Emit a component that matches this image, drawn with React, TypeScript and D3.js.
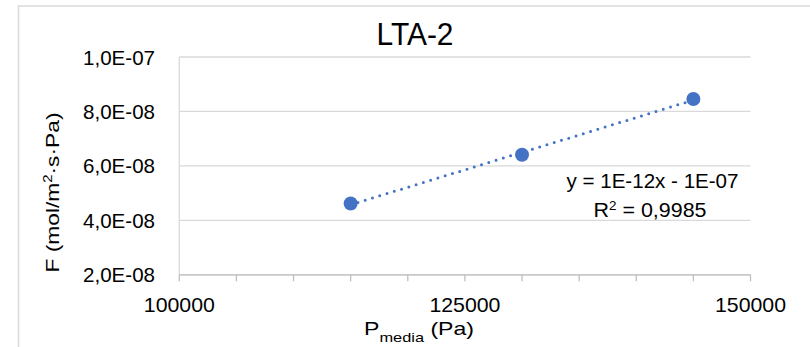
import React from "react";
import * as d3 from "d3";

// Measured points: mean pressure (Pa) vs permeance F (mol/m²·s·Pa)
const pressureValues = [115000, 130000, 145000];
const permeanceValues = [4.62e-8, 6.41e-8, 8.46e-8];

const xTickValues = [100000, 125000, 150000];
const yTickValues = [2e-8, 4e-8, 6e-8, 8e-8, 1e-7];
const xMinorStep = 5000;

const chartTitle = "LTA-2";

const W = 810;
const H = 347;
const FONT = "'Liberation Sans', Arial, sans-serif";
const BLUE = "#4472C4";

// "1,0E-07" style scientific labels
function sciLabel(v: number, digits: number): string {
  const [m, e] = v.toExponential(digits).split("e");
  const exp = parseInt(e, 10);
  const sign = exp < 0 ? "-" : "+";
  return `${m.replace(".", ",")}E${sign}${String(Math.abs(exp)).padStart(2, "0")}`;
}

// "1E-12" / "1E-07" style coefficients for the trend equation
function sciShort(v: number): string {
  const [m, e] = v.toExponential(0).split("e");
  const exp = parseInt(e, 10);
  const sign = exp < 0 ? "-" : "+";
  return `${m}E${sign}${String(Math.abs(exp)).padStart(2, "0")}`;
}

export default function App() {
  const x = d3.scaleLinear().domain([100000, 150000]).range([179.3, 750.5]);
  const y = d3.scaleLinear().domain([2e-8, 1e-7]).range([274.8, 57]);

  // Least-squares linear trend
  const n = pressureValues.length;
  const mx = d3.mean(pressureValues) as number;
  const my = d3.mean(permeanceValues) as number;
  let sxy = 0;
  let sxx = 0;
  let syy = 0;
  for (let i = 0; i < n; i++) {
    sxy += (pressureValues[i] - mx) * (permeanceValues[i] - my);
    sxx += (pressureValues[i] - mx) ** 2;
    syy += (permeanceValues[i] - my) ** 2;
  }
  const slope = sxy / sxx;
  const intercept = my - slope * mx;
  const r2 = (sxy * sxy) / (sxx * syy);

  const xExtent = d3.extent(pressureValues) as [number, number];
  const trendPath = d3.line<number>()
    .x((d) => x(d))
    .y((d) => y(slope * d + intercept))(xExtent) as string;

  const eqText = `y = ${sciShort(slope)}x ${intercept < 0 ? "-" : "+"} ${sciShort(Math.abs(intercept))}`;
  const r2Text = r2.toFixed(4).replace(".", ",");

  const minorTicks = d3.range(100000, 150000 + 1, xMinorStep);
  const [x0, x1] = x.range();
  const yBottom = y(2e-8);

  return (
    <svg
      width={W}
      height={H}
      style={{ position: "absolute", left: 0, top: 0, background: "#fff" }}
      fontFamily={FONT}
    >
      {/* chart area frame */}
      <rect x={18.5} y={6} width={W} height={H + 20} fill="#fff" stroke="#d9d9d9" strokeWidth={1.5} />

      <text x={415} y={45} textAnchor="middle" fontSize={30.5} textLength={77} lengthAdjust="spacingAndGlyphs" fill="#000">
        {chartTitle}
      </text>

      {/* horizontal gridlines */}
      {yTickValues.map((v) => (
        <line key={v} x1={x0} x2={x1} y1={y(v)} y2={y(v)} stroke="#d9d9d9" strokeWidth={1.3} />
      ))}
      {/* vertical axis line */}
      <line x1={x0} x2={x0} y1={y(1e-7)} y2={yBottom} stroke="#d9d9d9" strokeWidth={1.3} />
      {/* horizontal axis line and ticks */}
      <line x1={x0} x2={x1} y1={yBottom} y2={yBottom} stroke="#bfbfbf" strokeWidth={1.3} />
      {minorTicks.map((v) => (
        <line key={v} x1={x(v)} x2={x(v)} y1={yBottom} y2={yBottom + 6.5} stroke="#bfbfbf" strokeWidth={1.3} />
      ))}

      {/* y tick labels */}
      {yTickValues.map((v) => (
        <text key={v} x={155} y={y(v)} dy="0.36em" textAnchor="end" fontSize={21} textLength={72} lengthAdjust="spacingAndGlyphs" fill="#000">
          {sciLabel(v, 1)}
        </text>
      ))}
      {/* x tick labels */}
      {xTickValues.map((v) => (
        <text key={v} x={x(v)} y={311.5} textAnchor="middle" fontSize={21} textLength={71} lengthAdjust="spacingAndGlyphs" fill="#000">
          {String(v)}
        </text>
      ))}

      {/* axis titles */}
      <text
        transform={`translate(58.5,192.5) rotate(-90)`}
        textAnchor="middle"
        fontSize={19}
        textLength={160}
        lengthAdjust="spacingAndGlyphs"
        fill="#000"
      >
        F (mol/m<tspan fontSize={12.5} dy={-7}>2</tspan><tspan dy={7}>·s·Pa)</tspan>
      </text>
      <text x={364} y={335} fontSize={19} textLength={110} lengthAdjust="spacingAndGlyphs" fill="#000">
        P<tspan fontSize={13.5} dy={7}>media</tspan><tspan dy={-7}> (Pa)</tspan>
      </text>

      {/* trendline */}
      <path d={trendPath} fill="none" stroke={BLUE} strokeWidth={3} strokeLinecap="round" strokeDasharray="0 7.6" />

      {/* data points */}
      {pressureValues.map((p, i) => (
        <circle key={p} cx={x(p)} cy={y(permeanceValues[i])} r={7} fill={BLUE} />
      ))}

      {/* trendline equation */}
      <text x={652.5} y={188} textAnchor="middle" fontSize={20} textLength={172} lengthAdjust="spacingAndGlyphs" fill="#000">
        {eqText}
      </text>
      <text x={650} y={216.5} textAnchor="middle" fontSize={20} textLength={113} lengthAdjust="spacingAndGlyphs" fill="#000">
        R<tspan fontSize={12.5} dy={-7}>2</tspan><tspan dy={7}> = {r2Text}</tspan>
      </text>
    </svg>
  );
}
